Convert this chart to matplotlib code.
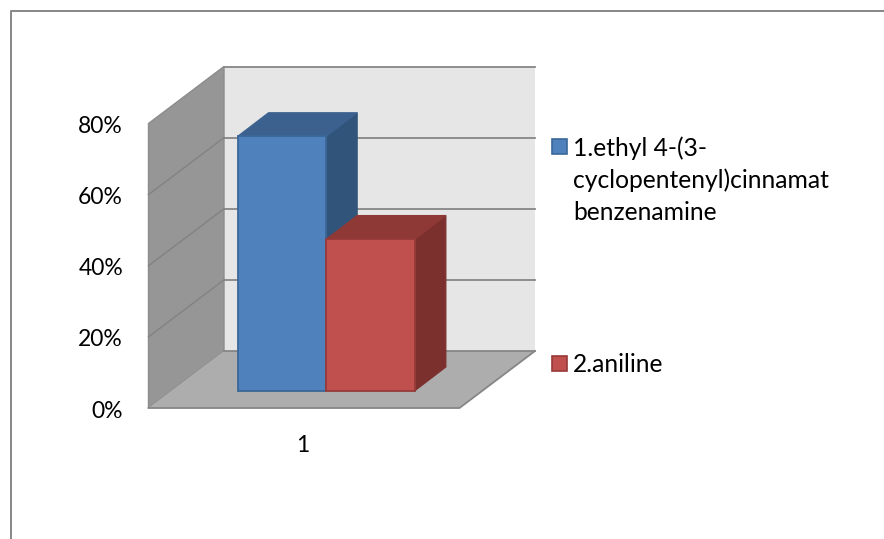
import matplotlib
matplotlib.use("Agg")
import matplotlib.pyplot as plt
from matplotlib.patches import Polygon, Rectangle

plt.rcParams["font.family"] = ["Lato", "DejaVu Sans"]

# values
series_names = ["1.ethyl 4-(3-\ncyclopentenyl)cinnamat\nbenzenamine", "2.aniline"]
series_values = [0.715, 0.426]
categories = ["1"]
y_ticks = [0, 0.2, 0.4, 0.6, 0.8]
y_tick_labels = ["0%", "20%", "40%", "60%", "80%"]

face_cols = ["#4F81BD", "#C0504D"]
top_cols = ["#3C618F", "#8F3937"]
side_cols = ["#31547B", "#7C302E"]
edge_cols = ["#3B6798", "#963A38"]

# pixel geometry of the 3d box
x0, x1 = 148.5, 459.5       # front edge of the floor
y_base = 408
y_max = 123.5
dx, dy = 75.5, -57          # wall depth
vmax = 0.8
scale = (y_base - y_max) / vmax

bar_left = 237.5
bar_w = 88.7
bar_base = 390.7
bar_dx, bar_dy = 31, -23.7


def y_pos(v, base=y_base):
    return base - v * scale


fig = plt.figure(figsize=(8.84, 5.39), dpi=100)
ax = fig.add_axes([0, 0, 1, 1])
ax.set_xlim(0, 884)
ax.set_ylim(539, 0)
ax.axis("off")

# chart frame
ax.plot([10.5, 10.5, 884], [539, 10.5, 10.5], color="#868686", lw=1.4)

# walls and floor
wall = "#868686"
ax.add_patch(Polygon([(x0 + dx, y_pos(vmax) + dy), (x1 + dx, y_pos(vmax) + dy),
                      (x1 + dx, y_base + dy), (x0 + dx, y_base + dy)],
                     fc="#E6E6E6", ec="none", zorder=1))
ax.add_patch(Polygon([(x0, y_pos(vmax)), (x0 + dx, y_pos(vmax) + dy),
                      (x0 + dx, y_base + dy), (x0, y_base)],
                     fc="#969696", ec="#8C8C8C", lw=1, zorder=1))
ax.add_patch(Polygon([(x0, y_base), (x1, y_base), (x1 + dx, y_base + dy), (x0 + dx, y_base + dy)],
                     fc="#ADADAD", ec="none", zorder=1))
ax.plot([x0 + dx, x1 + dx], [y_pos(vmax) + dy] * 2, color=wall, lw=1.3, zorder=2)
ax.plot([x0, x1, x1 + dx], [y_base, y_base, y_base + dy], color=wall, lw=1.3, zorder=2)
ax.plot([x0 + dx, x1 + dx], [y_base + dy] * 2, color=wall, lw=1.3, zorder=2)

# gridlines on back and side wall
for t in y_ticks[1:-1]:
    ax.plot([x0 + dx, x1 + dx], [y_pos(t) + dy] * 2, color=wall, lw=1.3, zorder=2)
    ax.plot([x0, x0 + dx], [y_pos(t), y_pos(t) + dy], color="#828282", lw=1, zorder=2)

# bars
for i, v in enumerate(series_values):
    left = bar_left + i * bar_w
    right = left + bar_w
    top = y_pos(v, bar_base)
    z = 3 + i
    ax.add_patch(Polygon([(right, top), (right + bar_dx, top + bar_dy),
                          (right + bar_dx, bar_base + bar_dy), (right, bar_base)],
                         fc=side_cols[i], ec=side_cols[i], lw=0.8, zorder=z))
    ax.add_patch(Polygon([(left, top), (left + bar_dx, top + bar_dy),
                          (right + bar_dx, top + bar_dy), (right, top)],
                         fc=top_cols[i], ec=top_cols[i], lw=0.8, zorder=z))
    ax.add_patch(Rectangle((left, top), bar_w, bar_base - top,
                           fc=face_cols[i], ec=edge_cols[i], lw=1.3, zorder=z))

# axis labels
for t, lab in zip(y_ticks, y_tick_labels):
    ax.text(123, y_pos(t) + 3, lab, ha="right", va="center", fontsize=16.5, color="black")
ax.text(303, 445, categories[0], ha="center", va="center", fontsize=16.5, color="black")

# legend
legend_y = [146, 363]
for i, name in enumerate(series_names):
    ax.add_patch(Rectangle((551.5, legend_y[i] - 7.5), 15, 15,
                           fc=face_cols[i], ec=edge_cols[i], lw=1.2, zorder=3))
    ax.text(573, legend_y[i] - 10, name, ha="left", va="top", fontsize=17.7,
            color="black", linespacing=1.46)

fig.savefig("out.png", dpi=100)
